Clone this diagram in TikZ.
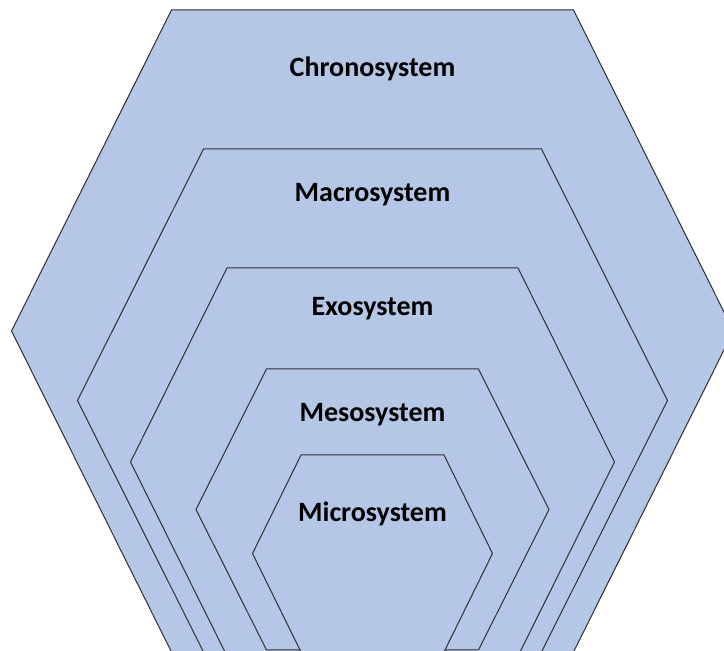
\documentclass[tikz,border=0pt]{standalone}
\usepackage{fontspec}
\setmainfont{Carlito}
\definecolor{hexfill}{HTML}{B4C7E7}
\definecolor{hexline}{HTML}{303030}
\begin{document}
\begin{tikzpicture}[x=0.5pt,y=-0.5pt,
  hexa/.style={fill=hexfill,draw=hexline,line width=0.5pt,line join=round},
  lbl/.style={anchor=base,inner sep=0pt,font=\fontsize{14}{16}\selectfont\bfseries}]
\useasboundingbox (0,0) rectangle (724,651);
\clip (0,0) rectangle (724,651);
% hexagon: \hexa{top}{mid}{top half-width}{mid half-width}
\newcommand{\myhex}[4]{%
  \path[hexa] (372.5-#3,#1) -- (372.5+#3,#1) -- (372.5+#4,#2)
    -- (372.5+#3,2*#2-#1) -- (372.5-#3,2*#2-#1) -- (372.5-#4,#2) -- cycle;}
\myhex{10}{331}{201}{361}
\myhex{149}{400.5}{169}{295}
\myhex{268}{462}{145.5}{242}
\myhex{369}{509.5}{106}{176.5}
\myhex{455}{553.5}{71.5}{120}
\node[lbl] (chrono) at (372.5,77) {Chronosystem};
\node[lbl] (macro) at (372.5,202) {Macrosystem};
\node[lbl] (exo) at (372.5,315.5) {Exosystem};
\node[lbl] (meso) at (372.5,422) {Mesosystem};
\node[lbl] (micro) at (372.5,521.5) {Microsystem};
\end{tikzpicture}
\end{document}
